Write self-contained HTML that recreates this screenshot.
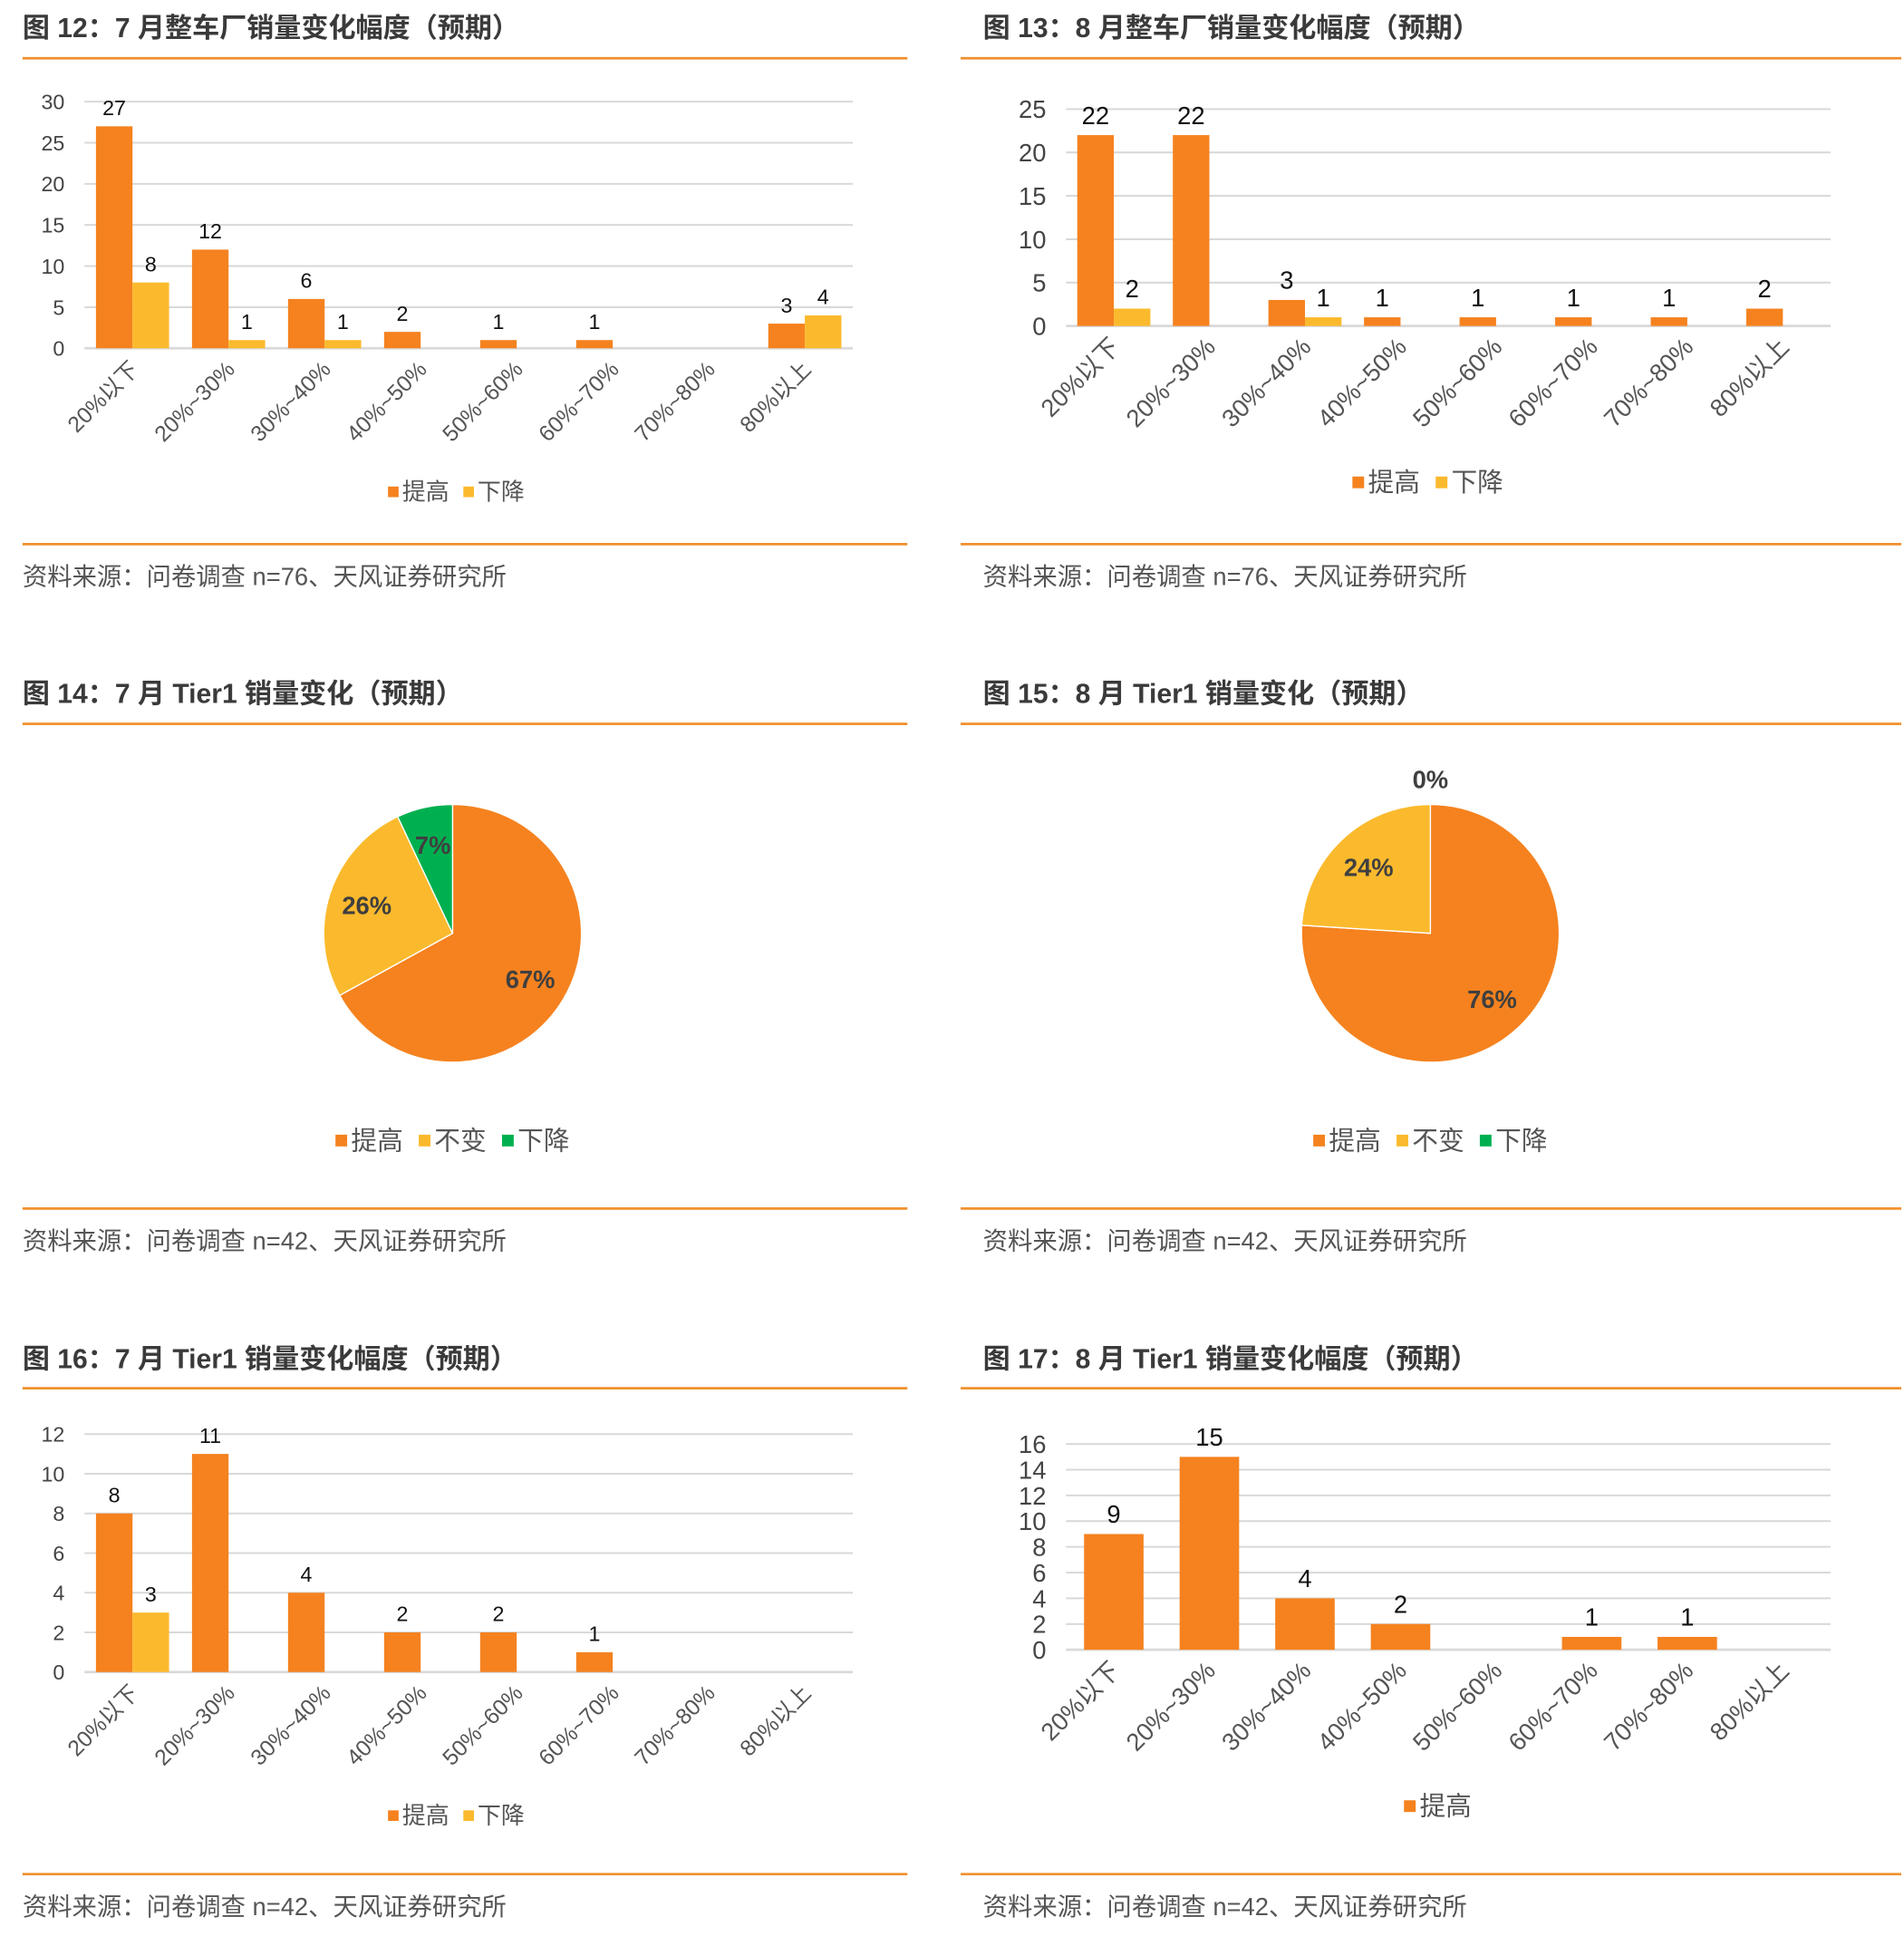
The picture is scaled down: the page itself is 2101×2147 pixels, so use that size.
<!DOCTYPE html>
<html><head><meta charset="utf-8"><style>
html,body{margin:0;padding:0;background:#fff;}
svg{display:block;}
text{font-family:"Liberation Sans Narrow","Liberation Sans","Noto Sans CJK SC",sans-serif;}
.t{font-weight:bold;fill:#3a3a3a;font-size:22px;font-family:"Liberation Sans","Noto Sans CJK SC",sans-serif;}
.s{fill:#555;font-size:20px;font-family:"Liberation Sans","Noto Sans CJK SC",sans-serif;}
</style></head><body>
<svg id="root" width="2101" height="2147" viewBox="0 0 1536 1570" xmlns="http://www.w3.org/2000/svg"></svg>
<script>
const cats = ["20%以下","20%~30%","30%~40%","40%~50%","50%~60%","60%~70%","70%~80%","80%以上"];
const c12Up = [27,12,6,2,1,1,0,3];
const c12Down = [8,1,1,0,0,0,0,4];
const c12Ticks = [0,5,10,15,20,25,30];
const c13Up = [22,22,3,1,1,1,1,2];
const c13Down = [2,0,1,0,0,0,0,0];
const c13Ticks = [0,5,10,15,20,25];
const c16Up = [8,11,4,2,2,1,0,0];
const c16Down = [3,0,0,0,0,0,0,0];
const c16Ticks = [0,2,4,6,8,10,12];
const c17Up = [9,15,4,2,0,1,1,0];
const c17Ticks = [0,2,4,6,8,10,12,14,16];
const pie14 = [67,26,7];
const pie15 = [76,24,0];
const pieLabels = ["提高","不变","下降"];

const NS="http://www.w3.org/2000/svg";
const root=document.getElementById('root');
const OR="#F5821F", YE="#FBBA2D", GR="#00B050";
function el(tag,attrs,parent,txt){const e=document.createElementNS(NS,tag);for(const k in attrs)e.setAttribute(k,attrs[k]);if(txt!==undefined)e.textContent=txt;(parent||root).appendChild(e);return e;}

function panel(x0,x1,tx,ty,title,src,lineY,footY,name){
  const g=el('g',{},root);
  
  
  const t=el('text',{x:tx,y:ty+16,class:'t'},g,title);
  
  
  const l1=el('line',{x1:x0,x2:x1,y1:lineY,y2:lineY,stroke:"#F0902F","stroke-width":2},g);
  
  
  const l2=el('line',{x1:x0,x2:x1,y1:footY,y2:footY,stroke:"#F0902F","stroke-width":2},g);
  
  
  const s=el('text',{x:tx,y:footY+33,class:'s'},g,src);
  
  
  return g;
}

function bar(g,o){
  const ys=v=>o.y0-(v/o.max)*(o.y0-o.yTop);
  const cw=(o.right-o.left)/cats.length;
  o.ticks.forEach(t=>{
    const gl=el('line',{x1:o.left,x2:o.right,y1:ys(t),y2:ys(t),stroke:"#d9d9d9","stroke-width":t===0?2:1.5},g);
    
    
    const tl=el('text',{x:o.left-16,y:ys(t)+o.fs*0.36,'text-anchor':'end','font-size':o.fs,fill:'#444'},g,t);
    
    
  });
  const n=o.series.length;
  cats.forEach((c,i)=>{
    const cx=o.left+cw*(i+0.5);
    o.series.forEach((s,j)=>{
      const v=s.vals[i];
      const bx=cx-o.barW*n/2+j*o.barW;
      if(v>0){
        const r=el('rect',{x:bx,y:ys(v),width:o.barW,height:o.y0-ys(v),fill:s.color},g);
        
        
      }
      if(v>0){
        const vl=el('text',{x:bx+o.barW/2,y:ys(v)-9,'text-anchor':'middle','font-size':o.labelFs,fill:'#111'},g,v);
        
        
      }
    });
    const xl=el('text',{x:0,y:0,'text-anchor':'end','font-size':o.xfs,fill:'#555',transform:`translate(${cx+6},${o.y0+18}) rotate(-45)`},g,c);
    
    
  });
  legend(g,o.legendX,o.legendY,o.series.map(s=>[s.label,s.color]),o.lfs);
}

function legend(g,cx,y,items,fs){
  const step=fs*3.2;
  const w=items.length*step-fs*0.6;
  let x=cx-w/2;
  items.forEach(([lab,col])=>{
    const r=el('rect',{x:x,y:y-fs*0.55,width:fs*0.45,height:fs*0.45,fill:col},g);
    
    
    const t=el('text',{x:x+fs*0.6,y:y+fs*0.02,'font-size':fs,fill:'#555'},g,lab);
    
    
    x+=step;
  });
}

function pie(g,cx,cy,r,vals){
  const cols=[OR,YE,GR];
  const tot=vals.reduce((a,b)=>a+b,0);
  let a=0;
  vals.forEach((v,i)=>{
    const a0=a, a1=a+v/tot*2*Math.PI; a=a1;
    if(v<=0)return;
    const p=(ang)=>[cx+r*Math.sin(ang),cy-r*Math.cos(ang)];
    const [x0,y0]=p(a0),[x1,y1]=p(a1);
    const large=(a1-a0)>Math.PI?1:0;
    const s=el('path',{d:`M${cx},${cy}L${x0},${y0}A${r},${r} 0 ${large} 1 ${x1},${y1}Z`,fill:cols[i],stroke:'#fff','stroke-width':1},g);
    
    
  });
  a=0;
  vals.forEach((v,i)=>{
    const a0=a,a1=a+v/tot*2*Math.PI;a=a1;
    const mid=(a0+a1)/2;
    const rr=r*0.7;
    let lx=cx+rr*Math.sin(mid), ly=cy-rr*Math.cos(mid);
    if(v===0){lx=cx;ly=cy-r-20;}
    const t=el('text',{x:lx,y:ly+7,'text-anchor':'middle','font-size':20,'font-weight':'bold',fill:'#3f3f3f','font-family':'Liberation Sans, sans-serif'},g,v+'%');
    
    
  });
  legend(g,cx,cy+174,pieLabels.map((l,i)=>[l,cols[i]]),21);
}

const L0=18,L1=732,R0=775,R1=1534,RT=793;
let g;
g=panel(L0,L1,L0,14,"图 12：7 月整车厂销量变化幅度（预期）","资料来源：问卷调查 n=76、天风证券研究所",47,439,'chart-12-panel');
bar(g,{left:68,right:688,y0:281,yTop:82,max:30,ticks:c12Ticks,fs:17,xfs:18,lfs:19,labelFs:17,barW:29.5,legendY:403,legendX:368,
  series:[{name:'up',label:'提高',vals:c12Up,color:OR},{name:'down',label:'下降',vals:c12Down,color:YE}]});

g=panel(R0,R1,RT,14,"图 13：8 月整车厂销量变化幅度（预期）","资料来源：问卷调查 n=76、天风证券研究所",47,439,'chart-13-panel');
bar(g,{left:860,right:1477,y0:263,yTop:88,max:25,ticks:c13Ticks,fs:20,xfs:20,lfs:21,labelFs:20,barW:29.5,legendY:396,legendX:1152,
  series:[{name:'up',label:'提高',vals:c13Up,color:OR},{name:'down',label:'下降',vals:c13Down,color:YE}]});

g=panel(L0,L1,L0,551,"图 14：7 月 Tier1 销量变化（预期）","资料来源：问卷调查 n=42、天风证券研究所",584,975,'chart-14-panel');
pie(g,365,753,104,pie14);
g=panel(R0,R1,RT,551,"图 15：8 月 Tier1 销量变化（预期）","资料来源：问卷调查 n=42、天风证券研究所",584,975,'chart-15-panel');
pie(g,1154,753,104,pie15);

g=panel(L0,L1,L0,1088,"图 16：7 月 Tier1 销量变化幅度（预期）","资料来源：问卷调查 n=42、天风证券研究所",1120,1512,'chart-16-panel');
bar(g,{left:68,right:688,y0:1349,yTop:1157,max:12,ticks:c16Ticks,fs:17,xfs:18,lfs:19,labelFs:17,barW:29.5,legendY:1471,legendX:368,
  series:[{name:'up',label:'提高',vals:c16Up,color:OR},{name:'down',label:'下降',vals:c16Down,color:YE}]});

g=panel(R0,R1,RT,1088,"图 17：8 月 Tier1 销量变化幅度（预期）","资料来源：问卷调查 n=42、天风证券研究所",1120,1512,'chart-17-panel');
bar(g,{left:860,right:1477,y0:1331,yTop:1165,max:16,ticks:c17Ticks,fs:20,xfs:20,lfs:21,labelFs:20,barW:48,legendY:1464,legendX:1160,
  series:[{name:'up',label:'提高',vals:c17Up,color:OR}]});
</script>
</body></html>
